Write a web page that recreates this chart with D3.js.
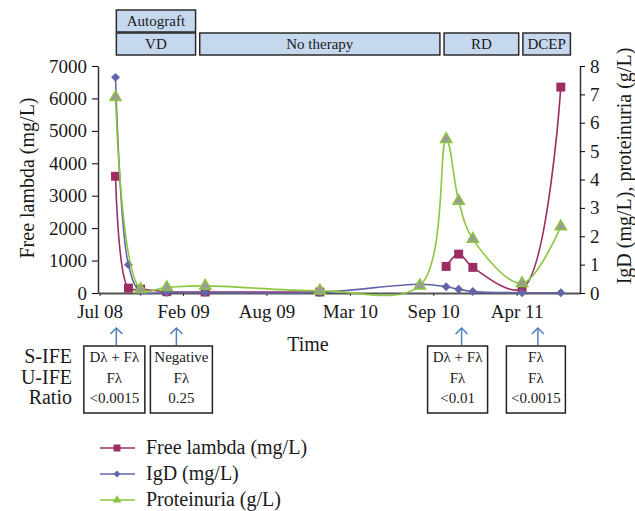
<!DOCTYPE html>
<html>
<head>
<meta charset="utf-8">
<script src="https://cdn.jsdelivr.net/npm/d3@7"></script>
<style>
  body { margin: 0; background: #fff; }
  text { font-family: "Liberation Serif", "DejaVu Serif", serif; fill: #1a1a1a; }
</style>
</head>
<body>
<div id="chart"></div>
<script>
// data
var dates = ["2008-08-27", "2008-09-27", "2008-10-26", "2008-12-28", "2009-03-30", "2009-12-30",
             "2010-08-27", "2010-10-29", "2010-11-28", "2011-01-01", "2011-04-29", "2011-07-31"];
var freeLambda = [3600, 150, 120, 40, 30, 30, null, 820, 1200, 790, 130, 6350];
var igd = [7.6, 1.0, 0.05, 0.02, 0.02, 0.02, 0.31, 0.22, 0.13, 0.05, 0.01, 0.01];
var proteinuria = [6.9, null, 0.13, 0.2, 0.25, 0.08, 0.26, 5.42, 3.24, 1.9, 0.34, 2.34];

var tickDates = ["2008-07-20", "2009-02-05", "2009-08-24", "2010-03-12", "2010-09-28", "2011-04-16"];
var tickLabels = ["Jul 08", "Feb 09", "Aug 09", "Mar 10", "Sep 10", "Apr 11"];

var phaseNames = ["Autograft", "VD", "No therapy", "RD", "DCEP"];
var phaseStart = ["2008-08-29", "2008-08-29", "2009-03-17", "2010-10-24", "2011-05-01"];
var phaseEnd = ["2009-03-07", "2009-03-07", "2010-10-14", "2011-04-21", "2011-08-23"];
var phaseRow = [0, 1, 1, 1, 1];

var ifeDates = ["2008-08-29", "2009-01-20", "2010-12-05", "2011-06-06"];
var ifeSerum = ["D\u03bb + F\u03bb", "Negative", "D\u03bb + F\u03bb", "F\u03bb"];
var ifeUrine = ["F\u03bb", "F\u03bb", "F\u03bb", "F\u03bb"];
var ifeRatio = ["<0.0015", "0.25", "<0.01", "<0.0015"];

var width = 635, height = 511;
var margin = {left: 98, right: 55, top: 66, bottom: 218};
var parse = d3.timeParse("%Y-%m-%d");

var svg = d3.select("#chart").append("svg")
  .attr("width", width)
  .attr("height", height);

var x = d3.scaleTime()
  .domain([parse("2008-07-16"), parse("2011-09-15")])
  .range([margin.left, width - margin.right]);

var yLeft = d3.scaleLinear().domain([0, 7000]).range([height - margin.bottom, margin.top]);
var yRight = d3.scaleLinear().domain([0, 8]).range([height - margin.bottom, margin.top]);

var boxFill = "#c6d8ee", boxStroke = "#2b2b2b";

// therapy bars on top
var rowY = [10, 33], rowH = 22;
svg.append("g").selectAll("g")
  .data(phaseNames)
  .enter()
  .append("g")
  .each(function(name, i) {
    var g = d3.select(this);
    var x0 = x(parse(phaseStart[i])), x1 = x(parse(phaseEnd[i]));
    g.append("rect")
      .attr("x", x0).attr("y", rowY[phaseRow[i]])
      .attr("width", x1 - x0).attr("height", rowH)
      .attr("fill", boxFill).attr("stroke", boxStroke).attr("stroke-width", 1.5);
    g.append("text")
      .attr("x", (x0 + x1) / 2).attr("y", rowY[phaseRow[i]] + 16)
      .attr("text-anchor", "middle").attr("font-size", 15)
      .text(name);
  });

// axes
var xAxis = d3.axisBottom(x)
  .tickValues(tickDates.map(parse))
  .tickFormat((d, i) => tickLabels[i])
  .tickSizeInner(3).tickSizeOuter(0).tickPadding(9);

var gx = svg.append("g")
  .attr("transform", `translate(0, ${height - margin.bottom})`)
  .call(xAxis);
gx.select(".domain").attr("stroke", "#555").attr("stroke-width", 2);
gx.selectAll("line").attr("stroke", "#333");
gx.selectAll("text").attr("font-size", 19).attr("font-family", "Liberation Serif");

var gl = svg.append("g")
  .attr("transform", `translate(${margin.left}, 0)`)
  .call(d3.axisLeft(yLeft).tickValues(d3.range(0, 7001, 1000)).tickFormat(d3.format("d"))
    .tickSizeInner(6).tickSizeOuter(0).tickPadding(5));
gl.select(".domain").attr("stroke", "#333").attr("stroke-width", 1.5);
gl.selectAll("text").attr("font-size", 19).attr("font-family", "Liberation Serif");

var gr = svg.append("g")
  .attr("transform", `translate(${width - margin.right}, 0)`)
  .call(d3.axisRight(yRight).ticks(8).tickSizeInner(5).tickSizeOuter(0).tickPadding(5));
gr.select(".domain").attr("stroke", "#333").attr("stroke-width", 1.5);
gr.selectAll("text").attr("font-size", 19).attr("font-family", "Liberation Serif");

// axis titles
svg.append("text")
  .attr("transform", "translate(34, 178) rotate(-90)")
  .attr("text-anchor", "middle").attr("font-size", 20)
  .text("Free lambda (mg/L)");

svg.append("text")
  .attr("transform", "translate(631, 166) rotate(-90)")
  .attr("text-anchor", "middle").attr("font-size", 20)
  .text("IgD (mg/L), proteinuria (g/L)");

svg.append("text")
  .attr("x", 308).attr("y", 351)
  .attr("text-anchor", "middle").attr("font-size", 20)
  .text("Time");

// series
var series = [
  {name: "Free lambda (mg/L)", values: freeLambda, y: yLeft, color: "#9b2d62", symbol: d3.symbolSquare, size: 80, rot: 0, fill: "#9b2d62", gaps: true},
  {name: "IgD (mg/L)", values: igd, y: yRight, color: "#6266a8", symbol: d3.symbolSquare, size: 40, rot: 45, fill: "#6266a8", gaps: false},
  {name: "Proteinuria (g/L)", values: proteinuria, y: yRight, color: "#8cc63e", symbol: d3.symbolTriangle, size: 55, rot: 0, fill: "#9a9a9a", gaps: false}
];

series.forEach(function(s) {
  var pts = dates.map((d, i) => ({date: parse(d), v: s.values[i]}));
  if (!s.gaps) pts = pts.filter(p => p.v !== null);

  var line = d3.line()
    .defined(p => p.v !== null)
    .x(p => x(p.date))
    .y(p => s.y(p.v))
    .curve(d3.curveCatmullRom.alpha(0.5));

  svg.append("path")
    .datum(pts)
    .attr("fill", "none")
    .attr("stroke", s.color)
    .attr("stroke-width", 1.6)
    .attr("d", line);

  svg.append("g").selectAll("path")
    .data(pts.filter(p => p.v !== null))
    .enter()
    .append("path")
    .attr("d", d3.symbol().type(s.symbol).size(s.size))
    .attr("transform", p => `translate(${x(p.date)}, ${s.y(p.v)}) rotate(${s.rot})`)
    .attr("fill", s.fill)
    .attr("stroke", s.symbol === d3.symbolTriangle ? s.color : "none")
    .attr("stroke-width", 1.5);
});

// immunofixation boxes
var rowLabels = ["S-IFE", "U-IFE", "Ratio"];
var lineY = [363, 384, 404];
svg.append("g")
  .attr("text-anchor", "end")
  .selectAll("text")
  .data(rowLabels)
  .enter()
  .append("text")
  .attr("x", 72)
  .attr("y", (d, i) => lineY[i])
  .attr("font-size", 20)
  .text(d => d);

var boxShift = [-2, 5, -4, -2];
var boxW = [61, 62, 60, 59];
ifeDates.forEach(function(d, i) {
  var ax = x(parse(d));
  var cx = ax + boxShift[i];
  var g = svg.append("g");
  g.append("line")
    .attr("x1", ax).attr("x2", ax).attr("y1", 328).attr("y2", 345)
    .attr("stroke", "#4f81bd").attr("stroke-width", 1.5);
  g.append("path")
    .attr("d", `M${ax - 6},${334} L${ax},${328} L${ax + 6},${334}`)
    .attr("fill", "none").attr("stroke", "#4f81bd").attr("stroke-width", 1.5);
  g.append("rect")
    .attr("x", cx - boxW[i] / 2).attr("y", 346)
    .attr("width", boxW[i]).attr("height", 67)
    .attr("fill", "none").attr("stroke", "#222").attr("stroke-width", 1.5);
  [ifeSerum[i], ifeUrine[i], ifeRatio[i]].forEach(function(t, j) {
    g.append("text")
      .attr("x", cx).attr("y", lineY[j] - 1)
      .attr("text-anchor", "middle").attr("font-size", 15)
      .text(t);
  });
});

// legend
var legend = svg.append("g")
  .selectAll("g")
  .data(series)
  .enter()
  .append("g")
  .attr("transform", (s, i) => `translate(100, ${448 + i * 26})`);

legend.append("line")
  .attr("x1", 0).attr("x2", 35)
  .attr("stroke", s => s.color).attr("stroke-width", 1.6);
legend.append("path")
  .attr("d", s => d3.symbol().type(s.symbol).size(s.size * 0.6)())
  .attr("transform", s => `translate(17, 0) rotate(${s.rot})`)
  .attr("fill", s => s.symbol === d3.symbolTriangle ? s.color : s.fill);
legend.append("text")
  .attr("x", 46).attr("y", 6)
  .attr("font-size", 20)
  .text(s => s.name);
</script>
</body>
</html>
